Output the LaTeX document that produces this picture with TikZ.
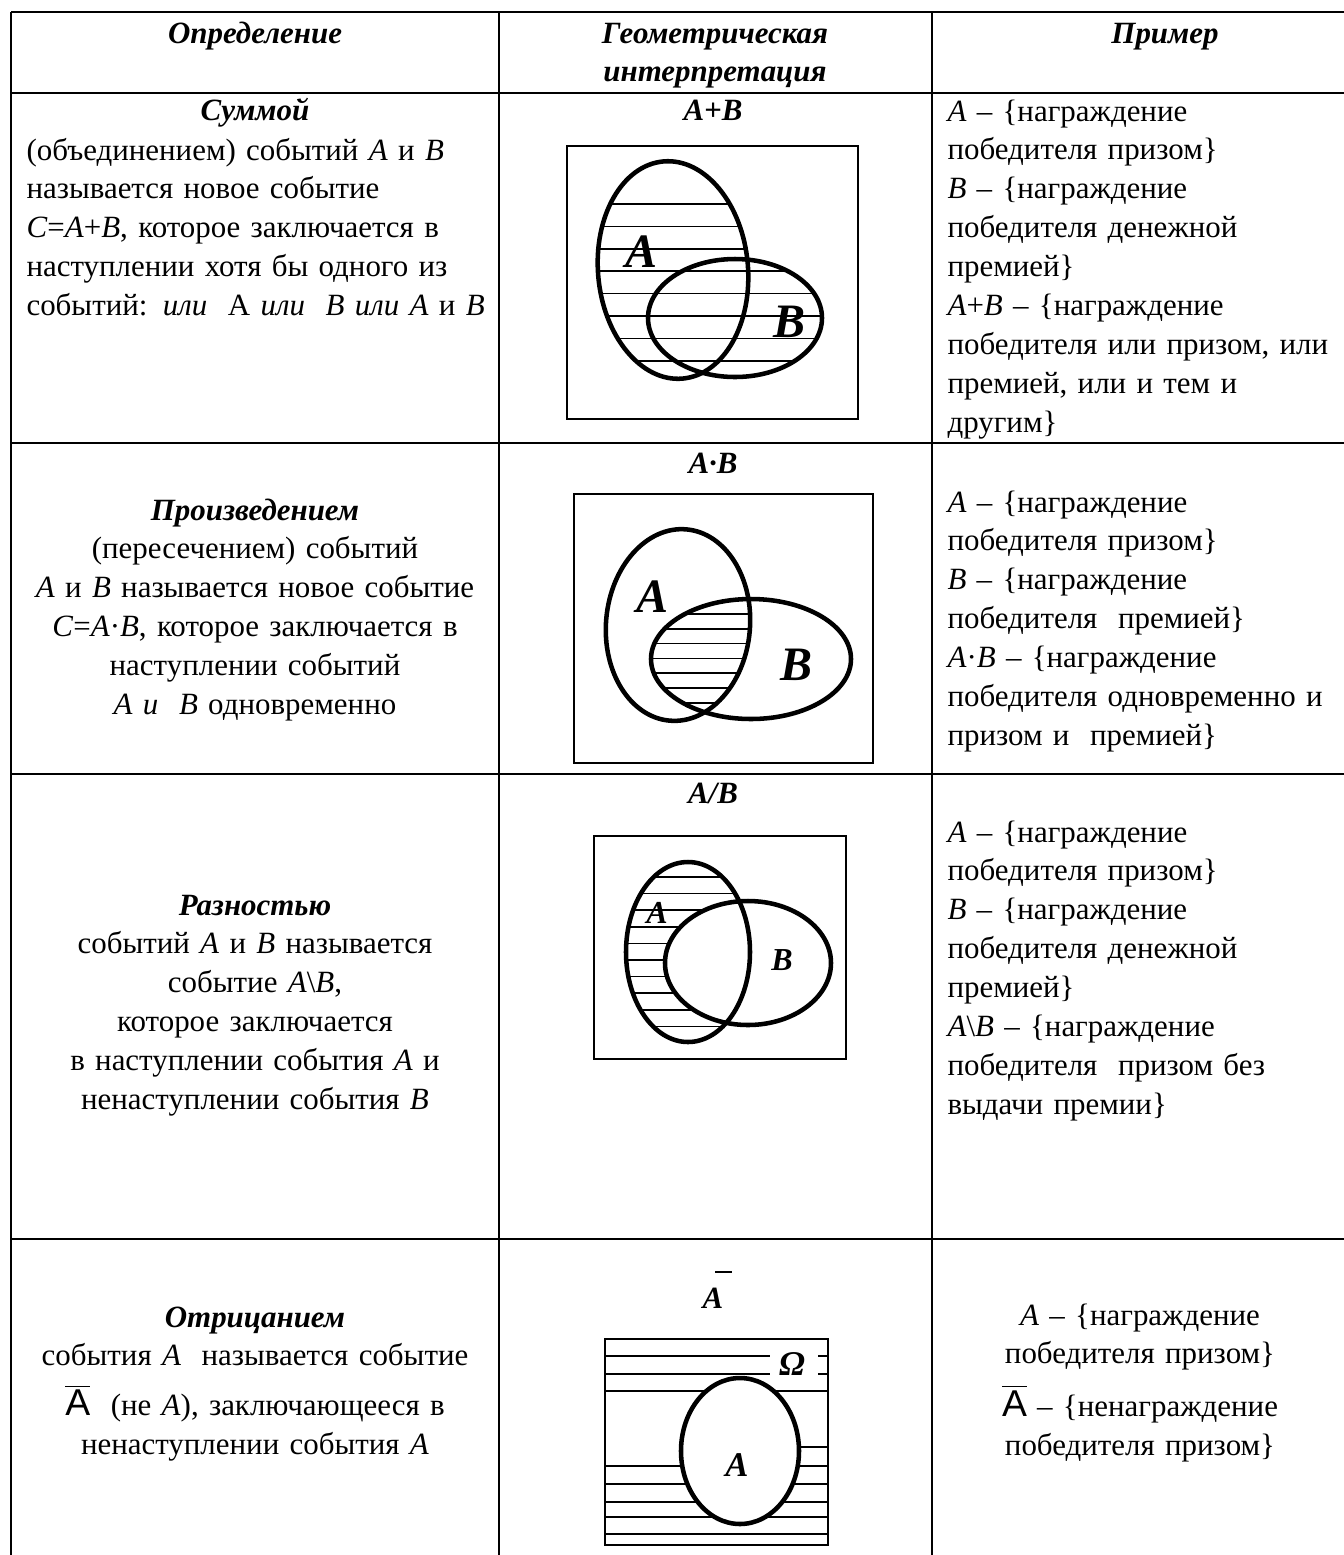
\documentclass[tikz,border=0pt]{standalone}
\usepackage{fontspec}
\setmainfont{Liberation Serif}
\newfontfamily\sansfnt{Liberation Sans}
\usetikzlibrary{positioning}

\newcommand{\celltxt}{\fontsize{11.6}{14.6}\selectfont\lineskiplimit=-100pt\relax}
\newcommand{\bi}[1]{\textbf{\textit{#1}}}
\newcommand{\notA}{$\overline{\hbox{\sansfnt\fontsize{14}{14}\selectfont A}}$}

\tikzset{
  tablerule/.style={line width=1.1pt},
  vennbox/.style={line width=0.6pt},
  venn/.style={line width=1.7pt},
  hatchline/.style={line width=0.55pt},
  celltext/.style={inner sep=0pt, font=\celltxt, text width=180pt, align=#1},
  vennlabel/.style={inner sep=0pt, font=\fontsize{#1}{#1}\selectfont\bfseries\itshape},
}

\begin{document}
\begin{tikzpicture}[x=0.375pt, y=-0.375pt]
\useasboundingbox (0,0) rectangle (1344,1555);

%Table
\foreach \y in {12,93,443,774,1239}
  \draw[tablerule] (11,\y) -- (1344,\y);
\foreach \x in {11,499,932}
  \draw[tablerule] (\x,12) -- (\x,1555);

%Header
\node[celltext=center, anchor=base] (hdef) at (255,43) {\bi{Определение}};
\node[celltext=center, anchor=base] (hgeo) at (715,43) {\bi{Геометрическая}\\ \bi{интерпретация}};
\node[celltext=center, anchor=base] (hex) at (1165,43) {\bi{Пример}};

%Definitions
\node[celltext=center, anchor=base] (sumtitle) at (255,120) {\bi{Суммой}};
\node[celltext=left, anchor=base west] (sumtext) at (26,160) {(объединением) событий \textit{A} и \textit{B}\\ называется новое событие\\ \textit{C}=\textit{A}+\textit{B}, которое заключается в\\ наступлении хотя бы одного из\\ событий: \textit{или}~ А \textit{или}~ \textit{B} \textit{или} \textit{A} и \textit{B}};
\node[celltext=center, anchor=base] (prodtext) at (255,520) {\bi{Произведением}\\ (пересечением) событий\\ \textit{A} и \textit{B} называется новое событие\\ \textit{C}=\textit{A}·\textit{B}, которое заключается в\\ наступлении событий\\ \textit{A и}~ \textit{B} одновременно};
\node[celltext=center, anchor=base] (difftext) at (255,915) {\bi{Разностью}\\ событий \textit{A} и \textit{B} называется\\ событие \textit{A}\textbackslash\textit{B},\\ которое заключается\\ в наступлении события \textit{A} и\\ ненаступлении события \textit{B}};
\node[celltext=center, anchor=base] (negtext) at (255,1327) {\bi{Отрицанием}\\ события \textit{A}~ называется событие\\[4pt] \notA~ (не \textit{A}), заключающееся в\\ ненаступлении события \textit{A}};

%Examples
\node[celltext=left, anchor=base west] (sumex) at (947,121) {\textit{A} – \{награждение\\ победителя призом\}\\ \textit{B} – \{награждение\\ победителя денежной\\ премией\}\\ \textit{A}+\textit{B} – \{награждение\\ победителя или призом, или\\ премией, или и тем и\\ другим\}};
\node[celltext=left, anchor=base west] (prodex) at (947,512) {\textit{A} – \{награждение\\ победителя призом\}\\ \textit{B} – \{награждение\\ победителя~ премией\}\\ \textit{A}·\textit{B} – \{награждение\\ победителя одновременно и\\ призом и~ премией\}};
\node[celltext=left, anchor=base west] (diffex) at (947,842) {\textit{A} – \{награждение\\ победителя призом\}\\ \textit{B} – \{награждение\\ победителя денежной\\ премией\}\\ \textit{A}\textbackslash\textit{B} – \{награждение\\ победителя~ призом без\\ выдачи премии\}};
\node[celltext=center, anchor=base] (negex) at (1140,1325) {\textit{A} – \{награждение\\ победителя призом\}\\[5pt] \notA{} – \{ненаграждение\\ победителя призом\}};

%Sum
\node[celltext=center, anchor=base] (sumhead) at (713,120) {\bi{A+B}};
\draw[vennbox] (567,146) rectangle (858,419);
\begin{scope}
  \clip[rotate around={5:(673,270)}] (673,270) ellipse [x radius=75, y radius=109];
  \foreach \y in {204,226.4,...,362} \draw[hatchline] (590,\y) -- (840,\y);
\end{scope}
\begin{scope}
  \clip (735,318) ellipse [x radius=87, y radius=59];
  \foreach \y in {204,226.4,...,362} \draw[hatchline] (590,\y) -- (840,\y);
\end{scope}
\draw[venn, rotate around={5:(673,270)}] (673,270) ellipse [x radius=75, y radius=109];
\draw[venn] (735,318) ellipse [x radius=87, y radius=59];
\node[vennlabel=18] (sumA) at (642,252) {A};
\node[vennlabel=18] (sumB) at (790,322) {B};

%Product
\node[celltext=center, anchor=base] (prodhead) at (713,473) {\bi{A·B}};
\draw[vennbox] (574,494) rectangle (873,763);
\begin{scope}
  \clip[rotate around={-5:(678,625)}] (678,625) ellipse [x radius=72, y radius=96];
  \clip (751,659) ellipse [x radius=100, y radius=60];
  \foreach \y in {614,628.8,...,705} \draw[hatchline] (640,\y) -- (760,\y);
\end{scope}
\draw[venn, rotate around={-5:(678,625)}] (678,625) ellipse [x radius=72, y radius=96];
\draw[venn] (751,659) ellipse [x radius=100, y radius=60];
\node[vennlabel=18] (prodA) at (653,597) {A};
\node[vennlabel=18] (prodB) at (797,665) {B};

%Difference
\node[celltext=center, anchor=base] (diffhead) at (713,803) {\bi{A/B}};
\draw[vennbox] (594,836) rectangle (846,1059);
\begin{scope}
  \clip (688,952) ellipse [x radius=62, y radius=90];
  \foreach \y in {877,893.6,...,1028} \draw[hatchline] (620,\y) -- (760,\y);
\end{scope}
\fill[white] (748,963) ellipse [x radius=83, y radius=62];
\draw[venn] (688,952) ellipse [x radius=62, y radius=90];
\draw[venn] (748,963) ellipse [x radius=83, y radius=62];
\node[vennlabel=12] (diffA) at (657,913) {A};
\node[vennlabel=12] (diffB) at (782,960) {B};

%Negation
\node[celltext=center, anchor=base] (neghead) at (713,1308) {\bi{A}};
\draw[vennbox] (715,1272) -- (732,1272);
\draw[vennbox] (605,1339) rectangle (828,1545);
\foreach \y in {1356,1374} {
  \draw[hatchline] (605,\y) -- (770,\y);
  \draw[hatchline] (818,\y) -- (828,\y);
}
\foreach \y in {1391,1466,1484,1502,1517,1534}
  \draw[hatchline] (605,\y) -- (828,\y);
\draw[hatchline] (740,1447) -- (828,1447);
\fill[white] (740,1451) ellipse [x radius=59, y radius=73];
\draw[venn] (740,1451) ellipse [x radius=59, y radius=73];
\node[vennlabel=13] (omega) at (792,1364) {Ω};
\node[vennlabel=13] (negA) at (737,1465) {A};

\end{tikzpicture}
\end{document}
